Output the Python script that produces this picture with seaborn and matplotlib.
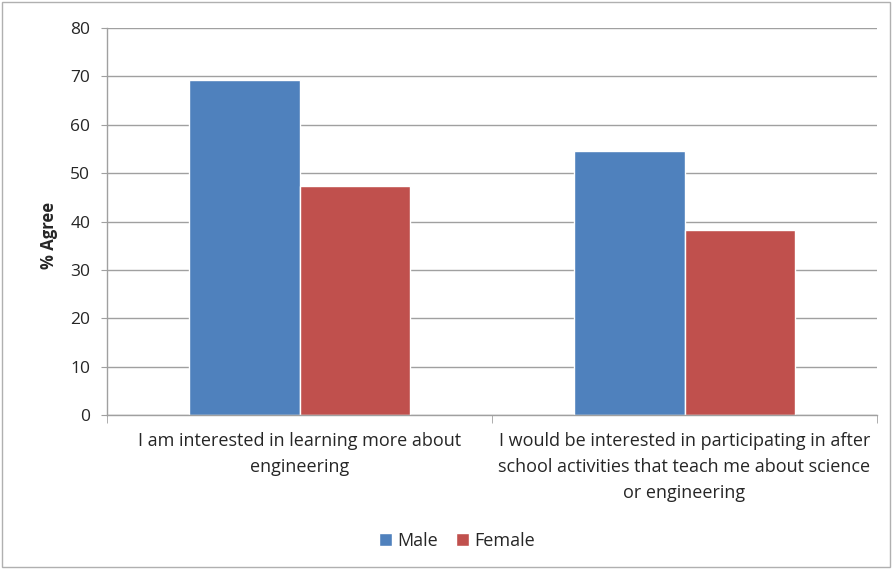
import matplotlib
matplotlib.use("Agg")
import matplotlib.pyplot as plt
import seaborn as sns
import pandas as pd

categories = ["I am interested in learning more about\nengineering",
              "I would be interested in participating in after\nschool activities that teach me about science\nor engineering"]
male = [69.2, 54.5]
female = [47.4, 38.2]
series = ["Male", "Female"]
colors = ["#4F81BD", "#C0504D"]

df = pd.DataFrame({
    "cat": categories * 2,
    "val": male + female,
    "sex": ["Male"] * len(categories) + ["Female"] * len(categories),
})

sns.set_style("white")
plt.rcParams['font.family'] = ['Open Sans', 'DejaVu Sans']

fig = plt.figure(figsize=(8.94, 5.69), dpi=100)
ax = fig.add_axes([107/894, 1-415/569, (877-107)/894, (415-28)/569])

sns.barplot(data=df, x="cat", y="val", hue="sex", hue_order=series,
            palette=colors, width=0.574, ax=ax, legend=True, saturation=1)

ax.set_ylim(0, 80)
ax.set_yticks(range(0, 81, 10))
ax.set_xlim(-0.5, 1.5)
ax.yaxis.grid(True, color="#A0A0A0", linewidth=1)
ax.set_axisbelow(True)
for s in ["top", "right"]:
    ax.spines[s].set_visible(False)
for s in ["left", "bottom"]:
    ax.spines[s].set_color("#A0A0A0")
    ax.spines[s].set_linewidth(1)
ax.set_xlabel("")
ax.set_ylabel("% Agree", fontsize=12, fontweight="bold")
ax.yaxis.set_label_coords(-(107-58)/770, 1-(235-28)/387)
ax.tick_params(axis="y", labelsize=12.5, length=4, color="#A0A0A0", left=True, pad=8)
ax.tick_params(axis="x", labelsize=13, length=0, pad=12)
ax.set_xticks([0, 1])
ax.set_xticklabels(categories, linespacing=1.6)
ax.set_xticks([-0.5, 0.5, 1.5], minor=True)
ax.tick_params(axis="x", which="minor", length=6, color="#A0A0A0", bottom=True)

leg = ax.legend(loc="center", bbox_to_anchor=((457-107)/770, -0.325), ncol=2, frameon=False,
                fontsize=13, handlelength=0.7, handleheight=0.7, handletextpad=0.3,
                columnspacing=1.0)

fig.patches.append(plt.Rectangle((0.002, 0.004), 0.993, 0.992, transform=fig.transFigure,
                                 fill=False, edgecolor="#B0B0B0", linewidth=1))
fig.savefig("out.png", dpi=100)
